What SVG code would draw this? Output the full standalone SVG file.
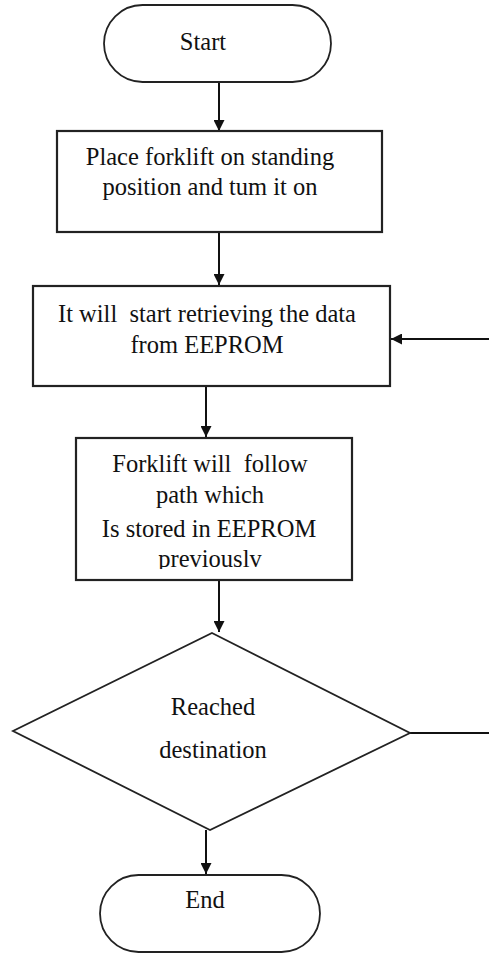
<svg xmlns="http://www.w3.org/2000/svg" width="489" height="953" viewBox="0 0 489 953">
<style>
.shape{fill:#fff;stroke:#222;stroke-width:1.8}
.box{fill:#fff;stroke:#222;stroke-width:2.2}
.t{font-family:"Liberation Serif","Times New Roman",serif;font-size:24.5px;fill:#111;text-anchor:middle;white-space:pre}
.c{stroke:#111;stroke-width:2;fill:none}
</style>
<defs>
<marker id="ah" viewBox="0 0 10 10" refX="10" refY="5" markerWidth="12" markerHeight="11" markerUnits="userSpaceOnUse" orient="auto">
<path d="M0,0 L10,5 L0,10 z" fill="#111"/>
</marker>
<clipPath id="clip3"><rect x="76" y="438" width="276" height="131"/></clipPath>
</defs>
<rect width="489" height="953" fill="#fff"/>
<g id="connectors">
<line class="c" x1="219" y1="82" x2="219" y2="131" marker-end="url(#ah)"/>
<line class="c" x1="219" y1="232" x2="219" y2="285" marker-end="url(#ah)"/>
<line class="c" x1="206" y1="386" x2="206" y2="437" marker-end="url(#ah)"/>
<line class="c" x1="219" y1="580" x2="219" y2="632" marker-end="url(#ah)"/>
<line class="c" x1="206" y1="830" x2="206" y2="874" marker-end="url(#ah)"/>
<line class="c" x1="410" y1="733" x2="489" y2="733"/>
<line class="c" x1="489" y1="339" x2="391" y2="339" marker-end="url(#ah)"/>
</g>
<g id="start">
<rect class="shape" x="104" y="5" width="227" height="77" rx="38.5"/>
<text class="t" x="203" y="50">Start</text>
</g>
<g id="place">
<rect class="box" x="57" y="131" width="325" height="101"/>
<text class="t" x="210" y="165">Place forklift on standing</text>
<text class="t" x="210" y="195">position and tum it on</text>
</g>
<g id="retrieve">
<rect class="box" x="33" y="286" width="357" height="100"/>
<text class="t" x="207" y="322">It will  start retrieving the data</text>
<text class="t" x="207" y="353">from EEPROM</text>
</g>
<g id="follow">
<rect class="box" x="76" y="438" width="276" height="142"/>
<g clip-path="url(#clip3)">
<text class="t" x="210" y="472">Forklift will  follow</text>
<text class="t" x="210" y="503">path which</text>
<text class="t" x="209" y="537">Is stored in EEPROM</text>
<text class="t" x="210" y="567">previouslv</text>
</g>
</g>
<g id="decision">
<polygon class="shape" points="212,633 410,733 210,830 13,731"/>
<text class="t" x="213" y="715">Reached</text>
<text class="t" x="213" y="758">destination</text>
</g>
<g id="end">
<rect class="shape" x="100" y="875" width="220" height="77" rx="38.5"/>
<text class="t" x="205" y="908">End</text>
</g>
</svg>
